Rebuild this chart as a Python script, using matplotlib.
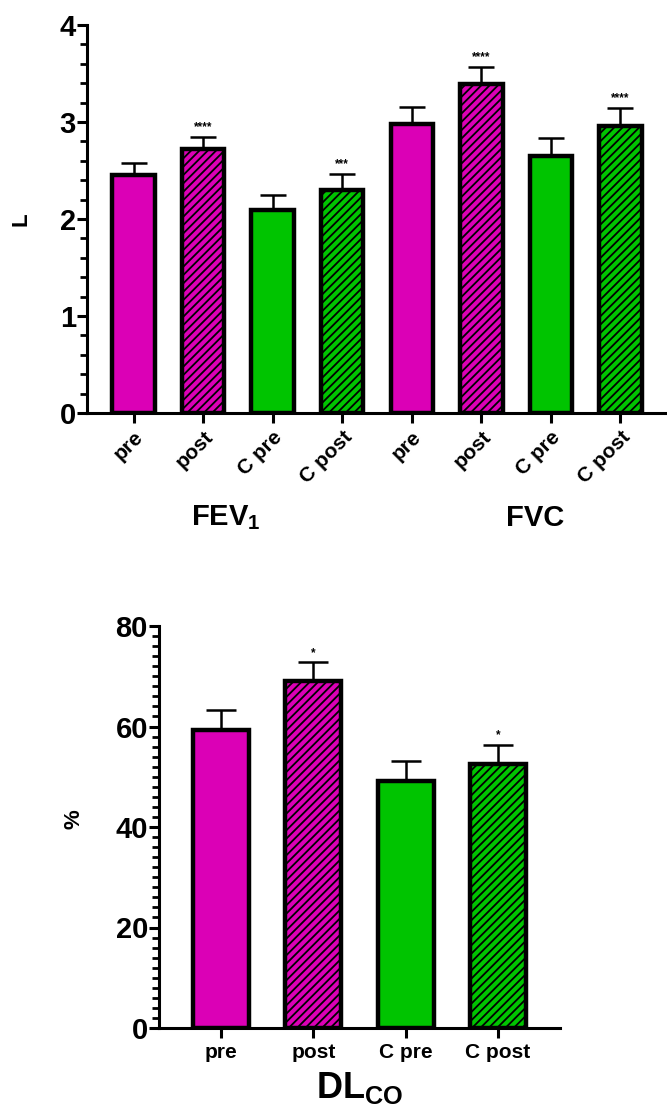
import matplotlib
matplotlib.use("Agg")
import matplotlib.pyplot as plt
from matplotlib.ticker import MultipleLocator

# spirometry values
labels_top = ["pre", "post", "C pre", "C post", "pre", "post", "C pre", "C post"]
top_means = [2.45, 2.72, 2.09, 2.30, 2.98, 3.39, 2.65, 2.96]
top_err = [0.13, 0.13, 0.16, 0.16, 0.17, 0.18, 0.18, 0.18]
top_sig = ["", "****", "", "***", "", "****", "", "****"]
groups_top = ["FEV$_\\mathbf{1}$", "FVC"]

labels_bot = ["pre", "post", "C pre", "C post"]
bot_means = [59.4, 69.1, 49.1, 52.5]
bot_err = [3.8, 3.7, 4.0, 3.9]
bot_sig = ["", "*", "", "*"]

MAG = "#DB00B6"
GRN = "#00C400"
colors = [MAG, MAG, GRN, GRN]
hatches = [None, "////", None, "////"]

plt.rcParams["font.family"] = ["Liberation Sans", "DejaVu Sans"]
plt.rcParams["font.weight"] = "bold"
plt.rcParams["hatch.linewidth"] = 1.3
plt.rcParams["mathtext.fontset"] = "custom"
plt.rcParams["mathtext.bf"] = "Liberation Sans:bold"
plt.rcParams["mathtext.rm"] = "Liberation Sans:bold"

fig = plt.figure(figsize=(6.67, 11.12), dpi=100)


def draw(ax, means, err, sig, ymax, major, minor, sig_off, capsize):
    n = len(means)
    xs = list(range(n))
    for i in xs:
        ax.bar(i, means[i], width=0.61, color=colors[i % 4], edgecolor="black",
               linewidth=3.2, hatch=hatches[i % 4], zorder=3)
    ax.errorbar(xs, means, yerr=[[0] * n, err], fmt="none", ecolor="black",
                elinewidth=1.8, capsize=capsize, capthick=1.8, zorder=2)
    for i in xs:
        if sig[i]:
            ax.text(i, means[i] + err[i] + sig_off, sig[i], ha="center",
                    va="bottom", fontsize=8.5, fontweight="bold")
    ax.set_xlim(-0.67, n - 0.33)
    ax.set_ylim(0, ymax)
    ax.yaxis.set_major_locator(MultipleLocator(major))
    ax.yaxis.set_minor_locator(MultipleLocator(minor))
    for s in ["top", "right"]:
        ax.spines[s].set_visible(False)
    for s in ["left", "bottom"]:
        ax.spines[s].set_linewidth(2.2)
    ax.tick_params(axis="y", which="major", length=7, width=2.2, labelsize=21, pad=1)
    ax.tick_params(axis="y", which="minor", length=5, width=2)
    ax.tick_params(axis="x", length=7, width=2.2)
    ax.set_xticks(xs)


# top panel: FEV1 and FVC
ax1 = fig.add_axes([87 / 667, 1 - 413 / 1112, 580 / 667, 388 / 1112])
draw(ax1, top_means, top_err, top_sig, 4, 1, 0.2, 0.04, 9.5)
ax1.set_xticklabels(labels_top, rotation=45, ha="right", rotation_mode="anchor",
                    fontsize=15, fontweight="bold")
ax1.set_ylabel("L", fontsize=16, fontweight="bold")
ax1.yaxis.set_label_coords(-0.095, 0.5)
ax1.text(1.33, -0.27, groups_top[0], transform=ax1.get_xaxis_transform(),
         ha="center", va="center", fontsize=21, fontweight="bold")
ax1.text(5.78, -0.27, groups_top[1], transform=ax1.get_xaxis_transform(),
         ha="center", va="center", fontsize=21, fontweight="bold")

# bottom panel: DLCO
ax2 = fig.add_axes([159 / 667, 1 - 1028 / 1112, 401 / 667, 402 / 1112])
draw(ax2, bot_means, bot_err, bot_sig, 80, 20, 2, 0.6, 10.5)
ax2.set_xticklabels(labels_bot, fontsize=15, fontweight="bold")
ax2.set_ylabel("%", fontsize=16, fontweight="bold")
ax2.yaxis.set_label_coords(-0.185, 0.52)
ax2.set_xlabel("DL$_\\mathbf{CO}$", fontsize=26, fontweight="bold", labelpad=6)

fig.savefig("out.png", dpi=100)
